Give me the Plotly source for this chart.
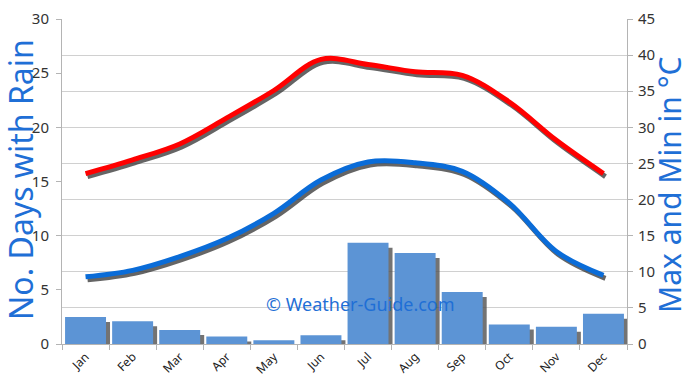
import plotly.graph_objects as go

months = ["Jan", "Feb", "Mar", "Apr", "May", "Jun", "Jul", "Aug", "Sep", "Oct", "Nov", "Dec"]
rain_days = [2.5, 2.1, 1.3, 0.7, 0.35, 0.8, 9.35, 8.4, 4.8, 1.8, 1.6, 2.8]
max_temp = [23.6, 25.5, 27.7, 31.3, 35.1, 39.4, 38.7, 37.7, 37.2, 33.5, 28.2, 23.6]
min_temp = [9.3, 10.2, 12.1, 14.6, 18.1, 22.7, 25.2, 25.1, 23.9, 19.5, 12.8, 9.5]

left_ticks = [0, 5, 10, 15, 20, 25, 30]
right_ticks = [0, 5, 10, 15, 20, 25, 30, 35, 40, 45]

W, H = 690, 388
ml, mr, mt, mb = 62, 63, 19, 44
pw = W - ml - mr
ph = H - mt - mb

cat_px = pw / 12.0
shadow_dx = 2.0 / cat_px
shadow_dy = 3.0 * 45.0 / ph
bar_dx = 4.0 / cat_px
bar_dy = 5.0 * 30.0 / ph
bar_w = 0.87

fig = go.Figure()

# bar shadows
fig.add_trace(go.Bar(
    x=months, y=rain_days, base=-bar_dy, width=bar_w, offset=-bar_w / 2 + bar_dx,
    marker=dict(color="rgba(80,80,80,0.8)", line=dict(width=0)),
    xaxis="x", yaxis="y", hoverinfo="skip", showlegend=False))
# bars
fig.add_trace(go.Bar(
    x=months, y=rain_days, width=bar_w, offset=-bar_w / 2,
    marker=dict(color="#5c94d5", line=dict(width=0)),
    xaxis="x", yaxis="y", name="Rain days", showlegend=False))

# line shadows
for vals in (max_temp, min_temp):
    fig.add_trace(go.Scatter(
        x=months, y=vals, mode="lines", line=dict(color="rgba(50,50,50,0.75)", width=5, shape="spline"),
        xaxis="x2", yaxis="y2", hoverinfo="skip", showlegend=False))

fig.add_trace(go.Scatter(
    x=months, y=max_temp, mode="lines", line=dict(color="#ff0000", width=5, shape="spline"),
    xaxis="x3", yaxis="y3", name="Max", showlegend=False))
fig.add_trace(go.Scatter(
    x=months, y=min_temp, mode="lines", line=dict(color="#0a6cd8", width=5, shape="spline"),
    xaxis="x3", yaxis="y3", name="Min", showlegend=False))

tickfont = dict(family="Noto Sans, DejaVu Sans", size=15, color="#333333")
axis_grey = "#b4b4b4"

fig.update_layout(
    width=W, height=H,
    margin=dict(l=ml, r=mr, t=mt, b=mb, autoexpand=False),
    paper_bgcolor="white", plot_bgcolor="white",
    barmode="overlay",
    xaxis=dict(type="category", categoryorder="array", categoryarray=months,
               range=[-0.5, 11.5], tickangle=-45, tickson="boundaries",
               ticks="outside", ticklen=5, tickcolor=axis_grey,
               showline=True, linecolor=axis_grey, linewidth=1,
               showgrid=False, zeroline=False, automargin=False,
               tickfont=dict(family="Noto Sans, DejaVu Sans", size=12, color="#222222")),
    yaxis=dict(range=[0, 30], tickvals=left_ticks, ticks="outside", ticklen=5,
               tickcolor=axis_grey, showline=True, linecolor=axis_grey,
               showgrid=False, zeroline=False, tickfont=tickfont, automargin=False,
               ticklabelstandoff=4),
    xaxis2=dict(type="category", categoryorder="array", categoryarray=months,
                overlaying="x", range=[-0.5 - shadow_dx, 11.5 - shadow_dx], visible=False),
    yaxis2=dict(overlaying="y", range=[shadow_dy, 45 + shadow_dy], visible=False),
    xaxis3=dict(type="category", categoryorder="array", categoryarray=months,
                overlaying="x", range=[-0.5, 11.5], visible=False),
    yaxis3=dict(overlaying="y", side="right", range=[0, 45], tickvals=right_ticks,
                ticks="outside", ticklen=5, tickcolor=axis_grey,
                showline=True, linecolor=axis_grey, showgrid=True,
                gridcolor="#d0d0d0", gridwidth=1, zeroline=False, tickfont=tickfont,
                automargin=False, ticklabelstandoff=2),
    annotations=[
        dict(text="No. Days with Rain", textangle=-90, xref="paper", yref="paper",
             x=(20 - ml) / pw, y=(H - mb - 180) / ph, showarrow=False,
             font=dict(family="Noto Sans, DejaVu Sans", size=32, color="#1f6fd6"),
             xanchor="center", yanchor="middle"),
        dict(text="Max and Min in °C", textangle=-90, xref="paper", yref="paper",
             x=(669 - ml) / pw, y=(H - mb - 185) / ph, showarrow=False,
             font=dict(family="Noto Sans, DejaVu Sans", size=30, color="#1f6fd6"),
             xanchor="center", yanchor="middle"),
        dict(text="© Weather-Guide.com", xref="paper", yref="paper",
             x=(360 - ml) / pw, y=(H - mb - 304) / ph, showarrow=False,
             font=dict(family="Noto Sans, DejaVu Sans", size=18, color="#1f6fd6"),
             xanchor="center", yanchor="middle"),
    ],
)

fig.write_html("out.html", config={"displayModeBar": False},
               post_script="document.body.style.margin='0px';document.body.style.overflow='hidden';")
